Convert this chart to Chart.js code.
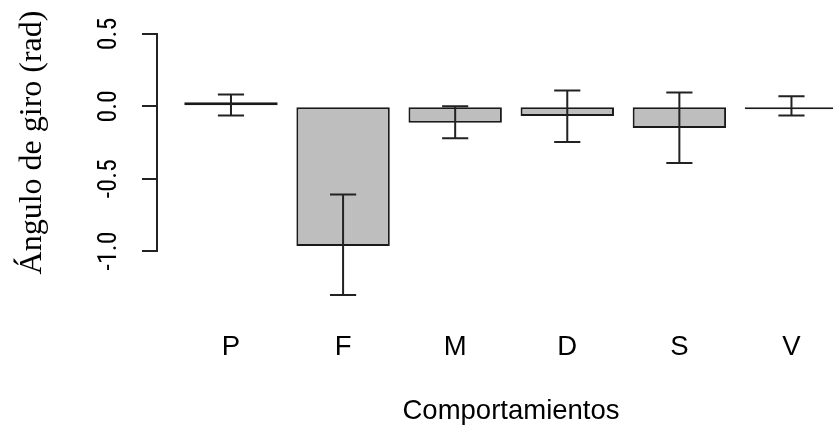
<!DOCTYPE html>
<html><head><meta charset="utf-8">
<script src="https://cdn.jsdelivr.net/npm/chart.js@4.4.1/dist/chart.umd.min.js"></script>
<style>
html,body{margin:0;padding:0;overflow:hidden;background:#fff;width:833px;height:428px}
#wrap{position:absolute;left:0;top:0;width:865px;height:428px}
</style>
</head><body><div id="wrap"><canvas id="c" width="865" height="428"></canvas></div>
<script>
// ---- data ----
const categories = ['P', 'F', 'M', 'D', 'S', 'V'];
const meanValues = [0.028, -0.965, -0.114, -0.066, -0.149, -0.02];
const errUpper   = [0.082, -0.609, 0.0, 0.109, 0.096, 0.070];
const errLower   = [-0.064, -1.304, -0.221, -0.246, -0.392, -0.064];
const yTickValues = [-1.0, -0.5, 0.0, 0.5];
const yAxisTitle = 'Ángulo de giro (rad)';
const xAxisTitle = 'Comportamientos';

const sansFamily = '"Liberation Sans", Arial, sans-serif';
const tickFamily = '"Roboto Condensed", "Liberation Sans", Arial, sans-serif';
const serifFamily = '"Liberation Serif", "Times New Roman", serif';

const errorBarPlugin = {
  id: 'errorBars',
  afterDatasetsDraw(chart) {
    const meta = chart.getDatasetMeta(0);
    const y = chart.scales.y;
    const ctx = chart.ctx;
    ctx.save();
    ctx.strokeStyle = '#222';
    ctx.lineWidth = 2;
    meta.data.forEach((bar, i) => {
      const x = bar.x;
      const half = bar.width * 0.14;
      const yt = y.getPixelForValue(errUpper[i]);
      const yb = y.getPixelForValue(errLower[i]);
      ctx.beginPath();
      ctx.moveTo(x, yt); ctx.lineTo(x, yb);
      ctx.moveTo(x - half, yt); ctx.lineTo(x + half, yt);
      ctx.moveTo(x - half, yb); ctx.lineTo(x + half, yb);
      ctx.stroke();
    });
    ctx.restore();
  }
};

new Chart(document.getElementById('c'), {
  type: 'bar',
  data: {
    datasets: [{
      data: meanValues.map((v, i) => ({ x: i + 1, y: v })),
      backgroundColor: '#BEBEBE',
      borderColor: '#1a1a1a',
      borderWidth: 2,
      borderSkipped: false,
      categoryPercentage: 1 / 1.2,
      barPercentage: 1
    }]
  },
  options: {
    responsive: false,
    animation: false,
    layout: { padding: { top: 34, right: 0, bottom: 0, left: 0 } },
    plugins: {
      legend: { display: false },
      tooltip: { enabled: false }
    },
    scales: {
      x: {
        type: 'linear',
        offset: false,
        min: 0.34,
        max: 6.656,
        afterBuildTicks: s => { s.ticks = categories.map((c, i) => ({ value: i + 1 })); },
        afterFit: s => { s.height = 177; s.paddingLeft = 0; s.paddingRight = 0; },
        grid: { display: false, drawTicks: false },
        border: { display: false },
        ticks: {
          autoSkip: false,
          maxRotation: 0,
          padding: 80,
          color: '#000',
          font: { family: sansFamily, size: 27.5 },
          callback: v => categories[Math.round(v) - 1] ?? ''
        },
        title: {
          display: true,
          text: xAxisTitle,
          color: '#000',
          font: { family: sansFamily, size: 27.5 },
          padding: { top: 0, bottom: 0 }
        }
      },
      y: {
        min: -1,
        max: 0.5,
        afterBuildTicks: s => { s.ticks = yTickValues.map(v => ({ value: v })); },
        afterFit: s => { s.width = 157; },
        grid: { display: true, drawOnChartArea: false, drawTicks: true, tickLength: 15, tickColor: '#222', tickWidth: 2, lineWidth: 2 },
        border: { display: true, color: '#222', width: 2 },
        ticks: {
          minRotation: 90,
          maxRotation: 90,
          crossAlign: 'center',
          padding: 13,
          color: '#000',
          font: { family: tickFamily, size: 26 },
          callback: v => Number(v).toFixed(1)
        },
        title: {
          display: true,
          text: yAxisTitle,
          color: '#000',
          font: { family: serifFamily, size: 32 },
          padding: { top: 13, bottom: 0 }
        }
      }
    }
  },
  plugins: [errorBarPlugin]
});
</script>
</body></html>
